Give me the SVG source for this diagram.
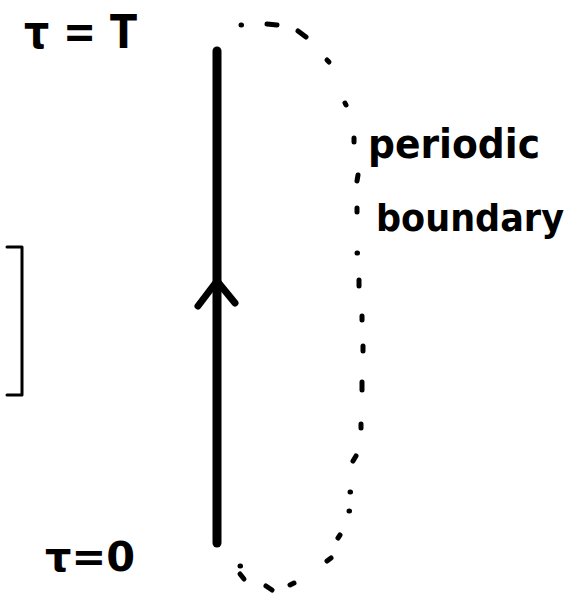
<svg xmlns="http://www.w3.org/2000/svg" width="586" height="593" viewBox="0 0 586 593">
<style>
.hand{font-family:"DejaVu Sans","Liberation Sans",sans-serif;font-weight:bold;fill:#000}
.dot{stroke:#000;stroke-width:5;stroke-linecap:round;fill:none}
.ink{stroke:#000;fill:none;stroke-linecap:round;stroke-linejoin:round}
</style>
<rect width="586" height="593" fill="#fff"/>
<g id="label-top">
<text class="hand" x="24" y="48" font-size="46" textLength="113" lengthAdjust="spacingAndGlyphs">τ = T</text>
</g>
<g id="label-bottom">
<text class="hand" x="45" y="571" font-size="40" textLength="90" lengthAdjust="spacingAndGlyphs">τ=0</text>
</g>
<g id="label-periodic">
<text class="hand" x="368" y="158" font-size="40" textLength="172" lengthAdjust="spacingAndGlyphs">periodic</text>
<text class="hand" x="376" y="231" font-size="38" textLength="188" lengthAdjust="spacingAndGlyphs">boundary</text>
</g>
<g id="bracket">
<path class="ink" d="M7 247 H22 V395 H7" stroke-width="3" stroke-linecap="butt" stroke-linejoin="miter"/>
</g>
<g id="connectors">
<line class="ink" x1="217" y1="51" x2="217" y2="543" stroke-width="9"/>
<path class="ink" d="M198 306 L217 281 L235 303" stroke-width="7"/>
<g id="periodic-boundary">
<path class="dot" d="M241 25h0.5" stroke-width="6"/>
<path class="dot" d="M267 24 L277 25" stroke-width="6"/>
<path class="dot" d="M298 31 L306 37" stroke-width="6"/>
<path class="dot" d="M327 60 L329 62" stroke-width="4"/>
<path class="dot" d="M345 103 L346 105" stroke-width="3"/>
<path class="dot" d="M354 138 L354 142"/>
<path class="dot" d="M358 175 L357 181"/>
<path class="dot" d="M357 208 L357 212"/>
<path class="dot" d="M357 253h0.5" stroke-width="4"/>
<path class="dot" d="M359 280 L359 286"/>
<path class="dot" d="M362 316 L362 320" stroke-width="4"/>
<path class="dot" d="M363 346 L363 351"/>
<path class="dot" d="M362 382 L362 390" stroke-width="6"/>
<path class="dot" d="M361 424 L361 428"/>
<path class="dot" d="M356 456 L353 461"/>
<path class="dot" d="M350 492h0.5"/>
<path class="dot" d="M349 511h0.5"/>
<path class="dot" d="M340 535 L338 538" stroke-width="3"/>
<path class="dot" d="M331 558 L327 561"/>
<path class="dot" d="M290 585 L294 583"/>
<path class="dot" d="M266 586 L272 590"/>
<path class="dot" d="M240 574 L244 579"/>
<path class="dot" d="M240 566h0.5" stroke-width="4"/>
</g>
</g>
</svg>
